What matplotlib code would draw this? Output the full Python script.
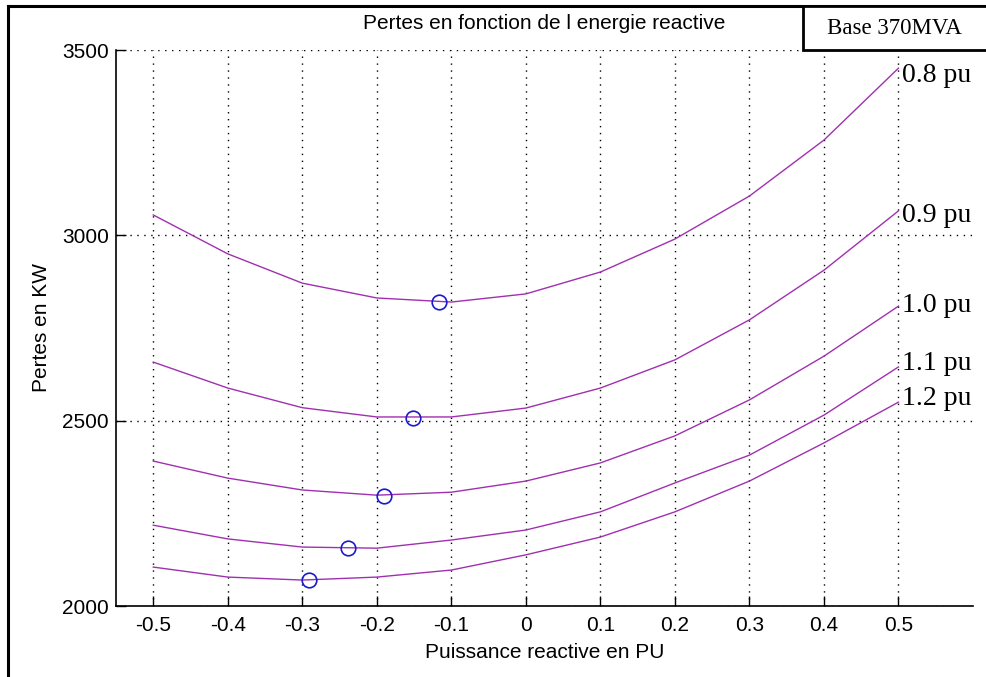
import matplotlib
matplotlib.use("Agg")
import matplotlib.pyplot as plt
from matplotlib.lines import Line2D
from matplotlib.patches import Rectangle

W, H = 986, 677
q = [-0.5, -0.4, -0.3, -0.2, -0.1, 0.0, 0.1, 0.2, 0.3, 0.4, 0.5]
loss_08 = [3055, 2950, 2871, 2831, 2820, 2842, 2901, 2990, 3106, 3257, 3451]
loss_09 = [2658, 2588, 2535, 2510, 2510, 2534, 2588, 2664, 2772, 2906, 3066]
loss_10 = [2391, 2345, 2313, 2299, 2307, 2337, 2386, 2459, 2556, 2674, 2809]
loss_11 = [2218, 2181, 2159, 2156, 2178, 2205, 2254, 2332, 2407, 2515, 2645]
loss_12 = [2105, 2078, 2070, 2078, 2097, 2138, 2186, 2254, 2337, 2440, 2550]
series = [loss_08, loss_09, loss_10, loss_11, loss_12]
labels = ["0.8 pu", "0.9 pu", "1.0 pu", "1.1 pu", "1.2 pu"]
label_y = [3414, 3036, 2793, 2637, 2542]
min_q = [-0.117, -0.151, -0.19, -0.239, -0.291]
min_loss = [2820, 2507, 2297, 2156, 2070]

xticks = [-0.5, -0.4, -0.3, -0.2, -0.1, 0, 0.1, 0.2, 0.3, 0.4, 0.5]
xticklabels = ["-0.5", "-0.4", "-0.3", "-0.2", "-0.1", "0", "0.1", "0.2", "0.3", "0.4", "0.5"]
yticks = [2000, 2500, 3000, 3500]

plt.rcParams['font.family'] = ['Liberation Sans', 'DejaVu Sans']
fig = plt.figure(figsize=(W / 100, H / 100), dpi=100)
ax = fig.add_axes([116 / W, 1 - 606 / H, (973 - 116) / W, (606 - 50) / H])

line_color = '#a030b0'
for s in series:
    ax.plot(q, s, color=line_color, lw=1.0, zorder=3)
ax.plot(min_q, min_loss, linestyle='none', marker='o', markersize=10.5,
        markerfacecolor='none', markeredgecolor='#1a1acc', markeredgewidth=1.2, zorder=4)

for lab, yv in zip(labels, label_y):
    ax.text(0.505, yv, lab, fontsize=20, family=['Liberation Serif', 'DejaVu Serif'],
            ha='left', va='baseline', color='black', zorder=5)

ax.set_xlim(-0.55, 0.6)
ax.set_ylim(2000, 3500)
ax.set_xticks(xticks)
ax.set_xticklabels(xticklabels)
ax.set_yticks(yticks)
ax.tick_params(direction='in', length=7, width=1, labelsize=15, pad=5)
ax.tick_params(axis='x', pad=7)
ax.grid(True, linestyle=(0, (1, 4)), color='black', lw=1.0)
ax.spines['top'].set_visible(False)
ax.spines['right'].set_visible(False)
ax.spines['left'].set_linewidth(1.2)
ax.spines['bottom'].set_linewidth(1.2)
ax.set_title("Pertes en fonction de l energie reactive", fontsize=15, pad=15)
ax.set_xlabel("Puissance reactive en PU", fontsize=15, labelpad=6)
ax.set_ylabel("Pertes en KW", fontsize=15, labelpad=8)

# outer frame
fig.add_artist(Line2D([8 / W, 8 / W], [0, 1 - 6 / H], color='black', lw=2.2, transform=fig.transFigure))
fig.add_artist(Line2D([8 / W, 1], [1 - 6 / H, 1 - 6 / H], color='black', lw=2.2, transform=fig.transFigure))
# base box
fig.add_artist(Rectangle((803 / W, 1 - 50 / H), (990 - 803) / W, 44 / H, fill=True, facecolor='white',
                         edgecolor='black', lw=2, transform=fig.transFigure, zorder=6))
fig.text(894 / W, 1 - 29 / H, "Base 370MVA", fontsize=16.5, family=['Liberation Serif', 'DejaVu Serif'],
         ha='center', va='center', zorder=7)

fig.savefig("out.png", dpi=100)
